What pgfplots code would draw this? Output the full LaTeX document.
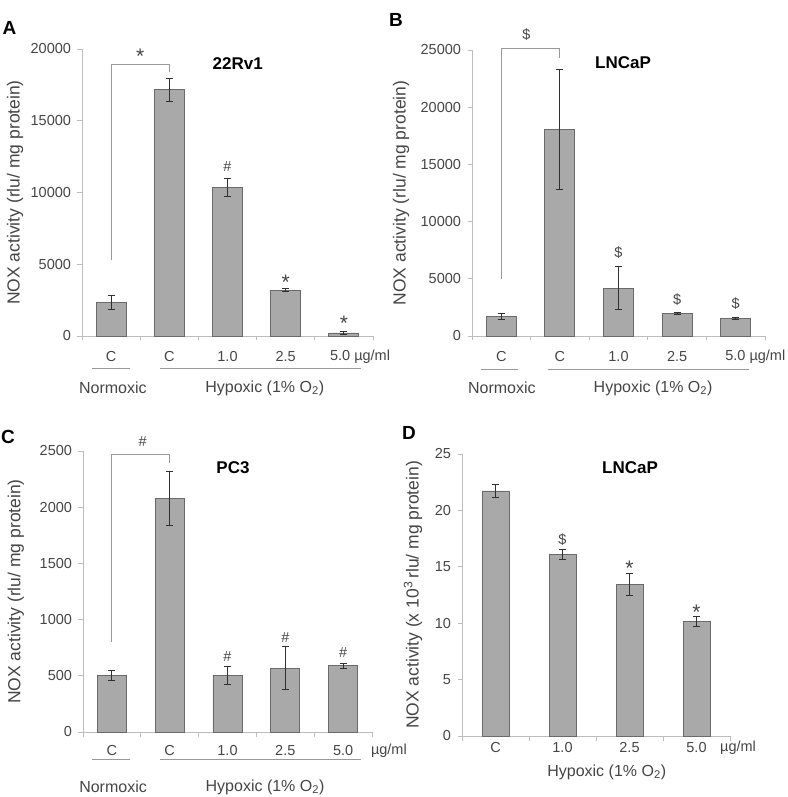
\documentclass[border=0pt]{standalone}
\usepackage{pgfplots}
\pgfplotsset{compat=1.18}
\usepackage{fontspec}
\setmainfont{Liberation Sans}
\definecolor{barfill}{HTML}{A9A9A9}
\definecolor{baredge}{HTML}{6A6A6A}
\definecolor{axgray}{HTML}{BDBDBD}
\definecolor{txt}{HTML}{454545}
\definecolor{errc}{HTML}{303030}
\definecolor{brk}{HTML}{999999}
\newcommand{\fs}[1]{\fontsize{#1}{#1}\selectfont}
\pgfplotsset{
  panel/.style={
    scale only axis, clip=false,
    axis x line*=bottom, axis y line*=left,
    axis line style={draw=axgray, line width=0.9pt},
    every tick/.style={draw=axgray, line width=0.9pt},
    tick align=outside, major tick length=4.5pt,
    ymin=0,
    xticklabels={},
    yticklabel style={font=\fs{14.5}, text=txt, xshift=-3pt},
    /pgf/number format/assume math mode=true,
    /pgf/number format/1000 sep={},
    scaled y ticks=false,
    ylabel style={font=\fs{17.5}, text=txt, anchor=center},
    ybar,
  },
  bars/.style={fill=barfill, draw=baredge, line width=0.9pt,
    error bars/.cd, y dir=both, y explicit,
    error bar style={draw=errc, line width=0.9pt},
    error mark options={draw=errc, line width=0.9pt, mark size=3.5pt, rotate=90}},
}
\tikzset{
  lab/.style={font=\fs{14.5}, text=txt, inner sep=0pt},
  grp/.style={font=\fs{16}, text=txt, inner sep=0pt},
  sig/.style={font=\fs{14.5}, text=txt, inner sep=0pt},
  star/.style={font=\fs{21}, text=txt, inner sep=0pt, yshift=-2pt},
  ttl/.style={font=\fs{17}\bfseries, text=black, inner sep=0pt},
  pl/.style={font=\fs{19}\bfseries, text=black, inner sep=0pt},
  ln/.style={draw=brk, line width=0.9pt},
}
\begin{document}
\begin{tikzpicture}
\useasboundingbox (0,0) rectangle (787pt,797pt);
% ---------------- Panel A ----------------
\begin{axis}[panel, at={(82pt,461pt)}, anchor=south west,
  width=291pt, height=287pt, xmin=-0.5, xmax=4.5,
  xtick={-0.5,0.5,1.5,2.5,3.5,4.5}, ymax=20000,
  ytick={0,5000,10000,15000,20000}, bar width=30pt,
  ylabel={NOX activity (rlu/ mg protein)},
  ylabel style={at={(axis description cs:-0.230,0.5)}}]
\addplot[bars] coordinates {
  (0,2350) +- (0,470)
  (1,17150) +- (0,810)
  (2,10340) +- (0,650)
  (3,3200) +- (0,100)
  (4,210) +- (0,130)};
\draw[ln] (axis cs:0,5300) -- (axis cs:0,18950) -- (axis cs:1,18950) -- (axis cs:1,18400);
\node[star] at (axis cs:0.5,19600) {*};
\node[sig] at (axis cs:2,11780) {\#};
\node[star] at (axis cs:3,3850) {*};
\node[star] at (axis cs:4,1000) {*};
\node[lab, yshift=-21pt] at (axis cs:0,0) {C};
\node[lab, yshift=-21pt] at (axis cs:1,0) {C};
\node[lab, yshift=-21pt] at (axis cs:2,0) {1.0};
\node[lab, yshift=-21pt] at (axis cs:3,0) {2.5};
\node[lab, yshift=-21pt, anchor=west] at (axis cs:3.76,0) {5.0 µg/ml};
\draw[ln] ([yshift=-32pt]axis cs:-0.33,0) -- ([yshift=-32pt]axis cs:0.33,0);
\draw[ln] ([yshift=-32pt]axis cs:0.84,0) -- ([yshift=-32pt]axis cs:4.3,0);
\node[grp, yshift=-52pt] at (axis cs:0.03,0) {Normoxic};
\node[grp, yshift=-52pt] at (axis cs:2.64,0) {Hypoxic (1\% O\textsubscript{2})};
\end{axis}
% ---------------- Panel B ----------------
\begin{axis}[panel, at={(472pt,461pt)}, anchor=south west,
  width=293pt, height=286pt, xmin=-0.5, xmax=4.5,
  xtick={-0.5,0.5,1.5,2.5,3.5,4.5}, ymax=25000,
  ytick={0,5000,10000,15000,20000,25000}, bar width=30pt,
  ylabel={NOX activity (rlu/ mg protein)},
  ylabel style={at={(axis description cs:-0.242,0.5)}}]
\addplot[bars] coordinates {
  (0,1700) +- (0,250)
  (1,18070) +- (0,5245)
  (2,4170) +- (0,1890)
  (3,1950) +- (0,90)
  (4,1545) +- (0,70)};
\draw[ln] (axis cs:0,5000) -- (axis cs:0,25150) -- (axis cs:1,25150) -- (axis cs:1,24300);
\node[sig] at (axis cs:0.43,26370) {\$};
\node[sig] at (axis cs:2,7320) {\$};
\node[sig] at (axis cs:3,3210) {\$};
\node[sig] at (axis cs:4,2800) {\$};
\node[lab, yshift=-21pt] at (axis cs:0,0) {C};
\node[lab, yshift=-21pt] at (axis cs:1,0) {C};
\node[lab, yshift=-21pt] at (axis cs:2,0) {1.0};
\node[lab, yshift=-21pt] at (axis cs:3,0) {2.5};
\node[lab, yshift=-21pt, anchor=west] at (axis cs:3.82,0) {5.0 µg/ml};
\draw[ln] ([yshift=-33pt]axis cs:-0.35,0) -- ([yshift=-33pt]axis cs:0.29,0);
\draw[ln] ([yshift=-33pt]axis cs:0.8,0) -- ([yshift=-33pt]axis cs:4.23,0);
\node[grp, yshift=-52pt] at (axis cs:0.01,0) {Normoxic};
\node[grp, yshift=-52pt] at (axis cs:2.59,0) {Hypoxic (1\% O\textsubscript{2})};
\end{axis}
% ---------------- Panel C ----------------
\begin{axis}[panel, at={(83pt,65pt)}, anchor=south west,
  width=289pt, height=281pt, xmin=-0.5, xmax=4.5,
  xtick={-0.5,0.5,1.5,2.5,3.5,4.5}, ymax=2500,
  ytick={0,500,1000,1500,2000,2500}, bar width=29pt,
  ylabel={NOX activity (rlu/ mg protein)},
  ylabel style={at={(axis description cs:-0.232,0.5)}}]
\addplot[bars] coordinates {
  (0,500) +- (0,45)
  (1,2077) +- (0,240)
  (2,503) +- (0,80)
  (3,568) +- (0,190)
  (4,589) +- (0,22)};
\draw[ln] (axis cs:0,805) -- (axis cs:0,2470) -- (axis cs:1,2470) -- (axis cs:1,2390);
\node[sig] at (axis cs:0.53,2583) {\#};
\node[sig] at (axis cs:2,670) {\#};
\node[sig] at (axis cs:3,842) {\#};
\node[sig] at (axis cs:4,706) {\#};
\node[lab, yshift=-19pt] at (axis cs:0,0) {C};
\node[lab, yshift=-19pt] at (axis cs:1,0) {C};
\node[lab, yshift=-19pt] at (axis cs:2,0) {1.0};
\node[lab, yshift=-19pt] at (axis cs:3,0) {2.5};
\node[lab, yshift=-19pt] at (axis cs:4,0) {5.0};
\node[lab, yshift=-19pt, anchor=west] at (axis cs:4.48,0) {µg/ml};
\draw[ln] ([yshift=-27pt]axis cs:-0.34,0) -- ([yshift=-27pt]axis cs:0.31,0);
\draw[ln] ([yshift=-27pt]axis cs:0.83,0) -- ([yshift=-27pt]axis cs:4.31,0);
\node[grp, yshift=-55pt] at (axis cs:0.02,0) {Normoxic};
\node[grp, yshift=-55pt] at (axis cs:2.65,0) {Hypoxic (1\% O\textsubscript{2})};
\end{axis}
% ---------------- Panel D ----------------
\begin{axis}[panel, at={(462pt,61pt)}, anchor=south west,
  width=268pt, height=282pt, xmin=-0.5, xmax=3.5,
  xtick={-0.5,0.5,1.5,2.5,3.5}, ymax=25,
  ytick={0,5,10,15,20,25}, bar width=27pt,
  ylabel={NOX activity (x 10\textsuperscript{3}\,rlu/ mg protein)},
  ylabel style={at={(axis description cs:-0.183,0.5)}}]
\addplot[bars] coordinates {
  (0,21.72) +- (0,0.6)
  (1,16.13) +- (0,0.45)
  (2,13.45) +- (0,1.0)
  (3,10.14) +- (0,0.45)};
\node[sig] at (axis cs:1,17.38) {\$};
\node[star] at (axis cs:2,15.05) {*};
\node[star] at (axis cs:3,11.15) {*};
\node[lab, yshift=-12pt] at (axis cs:0,0) {C};
\node[lab, yshift=-12pt] at (axis cs:1,0) {1.0};
\node[lab, yshift=-12pt] at (axis cs:2,0) {2.5};
\node[lab, yshift=-12pt] at (axis cs:3,0) {5.0};
\node[lab, yshift=-12pt, anchor=west] at (axis cs:3.35,0) {µg/ml};
\node[grp, yshift=-36pt] at (axis cs:1.66,0) {Hypoxic (1\% O\textsubscript{2})};
\end{axis}
% ---------------- Titles and panel letters ----------------
\node[ttl] at (237.7pt,733pt) {22Rv1};
\node[ttl] at (623pt,734pt) {LNCaP};
\node[ttl] at (233pt,329pt) {PC3};
\node[ttl] at (630pt,329pt) {LNCaP};
\node[pl] at (9.5pt,769pt) {A};
\node[pl] at (396pt,777pt) {B};
\node[pl] at (8pt,360pt) {C};
\node[pl] at (409pt,364pt) {D};
\end{tikzpicture}
\end{document}
